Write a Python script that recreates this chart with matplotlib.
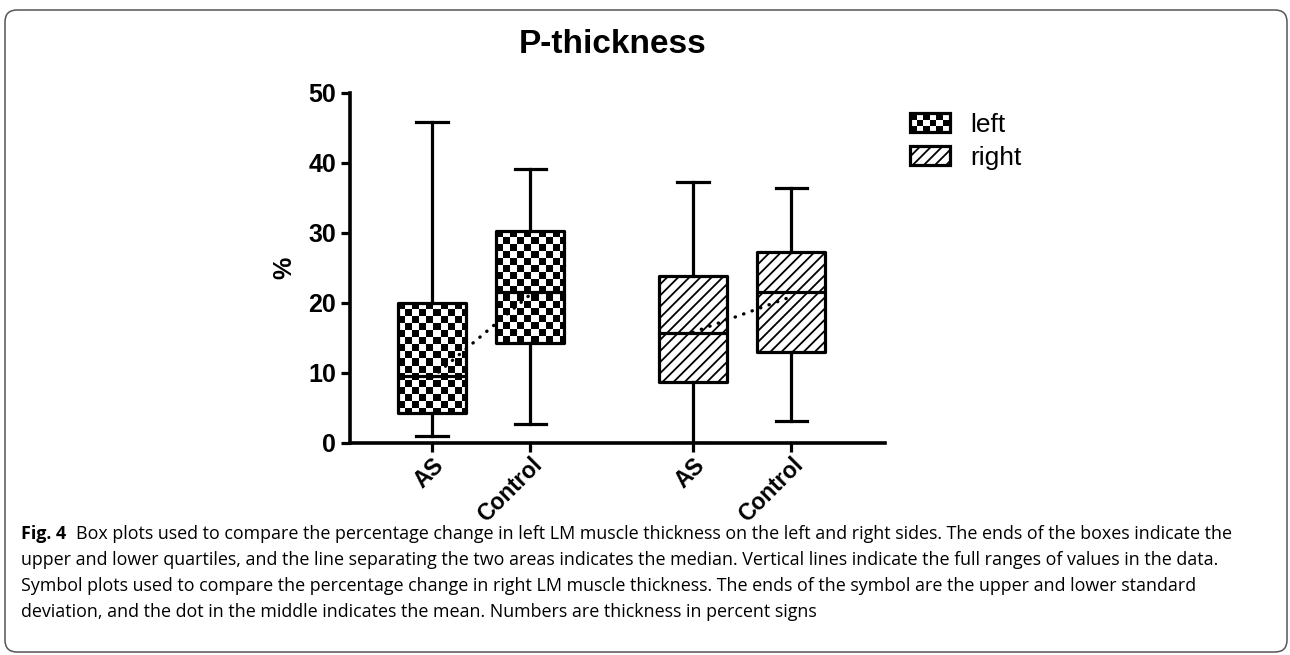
import numpy as np
import matplotlib
matplotlib.use("Agg")
import matplotlib.pyplot as plt
from matplotlib import font_manager
from matplotlib.patches import Patch, Rectangle, FancyBboxPatch
from matplotlib.legend_handler import HandlerBase

plt.rcParams['font.family'] = ['Liberation Sans', 'DejaVu Sans']
plt.rcParams['hatch.linewidth'] = 1.3
plt.rcParams['hatch.color'] = 'black'

# data
groups = ["AS", "Control", "AS", "Control"]
sides = ["left", "left", "right", "right"]
whislo = [1.0, 2.7, 0.0, 3.1]
q1 = [4.3, 14.3, 8.7, 13.0]
med = [9.6, 21.6, 15.7, 21.6]
q3 = [20.0, 30.3, 23.9, 27.3]
whishi = [45.8, 39.2, 37.3, 36.4]
means = [9.3, 21.2, 15.8, 20.9]
yticks = [0, 10, 20, 30, 40, 50]

caption_bold = "Fig. 4"
caption_lines = [
    "Box plots used to compare the percentage change in left LM muscle thickness on the left and right sides. The ends of the boxes indicate the",
    "upper and lower quartiles, and the line separating the two areas indicates the median. Vertical lines indicate the full ranges of values in the data.",
    "Symbol plots used to compare the percentage change in right LM muscle thickness. The ends of the symbol are the upper and lower standard",
    "deviation, and the dot in the middle indicates the mean. Numbers are thickness in percent signs",
]

positions = [1, 2, 3.65, 4.65]
box_w = 0.69
lw = 2.3

fig = plt.figure(figsize=(12.9, 6.55), dpi=100)
ax = fig.add_axes([0.2713, 0.3237, 0.4147, 0.5344])

stats = []
for i in range(4):
    stats.append(dict(whislo=whislo[i], q1=q1[i], med=med[i], q3=q3[i],
                      whishi=whishi[i], mean=means[i], label=groups[i]))

bp = ax.bxp(stats, positions=positions, widths=box_w, patch_artist=True,
            showfliers=False, capwidths=0.32,
            boxprops=dict(facecolor='white', edgecolor='black', linewidth=lw),
            whiskerprops=dict(color='black', linewidth=lw),
            capprops=dict(color='black', linewidth=lw),
            medianprops=dict(color='black', linewidth=lw))

# checkerboard fill for the left side, hatch for the right side
sq_x = 7 / 98.5
sq_y = 1.0
for i, box in enumerate(bp['boxes']):
    box.set_joinstyle('round')
    if sides[i] == 'left':
        box.set_facecolor('none')
        x0 = positions[i] - box_w / 2
        nx = int(np.ceil(box_w / sq_x))
        ny = int(np.ceil((q3[i] - q1[i]) / sq_y))
        grid = (np.add.outer(np.arange(ny), np.arange(nx)) % 2).astype(float)
        im = ax.imshow(grid, cmap='gray', interpolation='nearest', origin='upper',
                       extent=(x0, x0 + nx * sq_x, q3[i] - ny * sq_y, q3[i]),
                       aspect='auto', zorder=1.9)
        im.set_clip_path(box)
    else:
        box.set_hatch('///')
ax.set_xlim(0.17, 5.6)
ax.set_ylim(0, 50)

# means joined by dotted lines
for a, b in [(0, 1), (2, 3)]:
    ax.plot([positions[a], positions[b]], [means[a], means[b]], color='black',
            lw=2.4, ls=(0, (0.1, 2.6)), dash_capstyle='round', zorder=3)

for s in ['top', 'right']:
    ax.spines[s].set_visible(False)
for s in ['left', 'bottom']:
    ax.spines[s].set_linewidth(2.6)
ax.tick_params(width=2.3, length=6.5, labelsize=18)
ax.tick_params(axis='x', labelsize=16.5, pad=1)
ax.set_yticks(yticks)
ax.set_xticks(positions)
ax.set_xticklabels(groups, rotation=45, ha='right', va='top', rotation_mode='anchor',
                   fontweight='bold')
for t in ax.get_yticklabels():
    t.set_fontweight('bold')
ax.set_ylabel('%', fontsize=18, fontweight='bold')
ax.yaxis.set_label_coords(-0.10, 0.5)


class CheckerHandler(HandlerBase):
    def create_artists(self, legend, orig_handle, xdescent, ydescent, width, height,
                       fontsize, trans):
        arts = []
        nx, ny = 6, 3
        dx, dy = width / nx, height / ny
        for r in range(ny):
            for c in range(nx):
                if (r + c) % 2 == 0:
                    arts.append(Rectangle((-xdescent + c * dx, -ydescent + r * dy), dx, dy,
                                          facecolor='black', edgecolor='none',
                                          transform=trans))
        arts.append(Rectangle((-xdescent, -ydescent), width, height, facecolor='none',
                              edgecolor='black', lw=lw, transform=trans))
        return arts


h_left = Patch(facecolor='white', edgecolor='black', label='left')
h_right = Patch(facecolor='white', edgecolor='black', hatch='///', lw=lw, label='right')
fig.legend(handles=[h_left, h_right], handler_map={h_left: CheckerHandler()},
           loc='upper left', bbox_to_anchor=(910 / 1290, 1 - 113 / 655),
           frameon=False, fontsize=19, handlelength=1.5, handleheight=0.75,
           handletextpad=0.8, labelspacing=0.33, borderpad=0, borderaxespad=0)

fig.text(613 / 1290, 1 - 53 / 655, 'P-thickness', fontsize=24, fontweight='bold',
         ha='center', va='baseline')

# caption: a semi-condensed humanist face if installed, else Open Sans
cap_family = ['Open Sans', 'DejaVu Sans']
cap_stretch = 'normal'
ttf = font_manager.fontManager.ttflist
for fam in ['Noto Sans', 'Open Sans', 'Roboto', 'DejaVu Sans']:
    found = [f for f in ttf if f.name == fam and str(f.stretch) == 'semi-condensed']
    if found:
        cap_family = [fam, 'DejaVu Sans']
        cap_stretch = 'semi-condensed'
        break

renderer = fig.canvas.get_renderer()
probe = fig.text(0, 0, caption_lines[1], fontsize=12, family=cap_family, stretch=cap_stretch)
w = probe.get_window_extent(renderer).width
probe.remove()
cap_size = 12 * 1192 / w

line_y = [534, 560, 586, 612]
fb = fig.text(21 / 1290, 1 - line_y[0] / 655, caption_bold, fontsize=cap_size,
              fontweight='bold', family=cap_family, stretch=cap_stretch, va='center')
bw = fb.get_window_extent(renderer).width
fig.text((21 + bw + 10) / 1290, 1 - line_y[0] / 655, caption_lines[0], fontsize=cap_size,
         family=cap_family, stretch=cap_stretch, va='center')
for k in range(1, 4):
    fig.text(21 / 1290, 1 - line_y[k] / 655, caption_lines[k], fontsize=cap_size,
             family=cap_family, stretch=cap_stretch, va='center')

border = FancyBboxPatch((0.05, 0.03), 12.82, 6.42, boxstyle='round,pad=0,rounding_size=0.12',
                        transform=fig.dpi_scale_trans, facecolor='none',
                        edgecolor='#555555', lw=1.1)
fig.patches.append(border)

fig.savefig('out.png', dpi=100)
